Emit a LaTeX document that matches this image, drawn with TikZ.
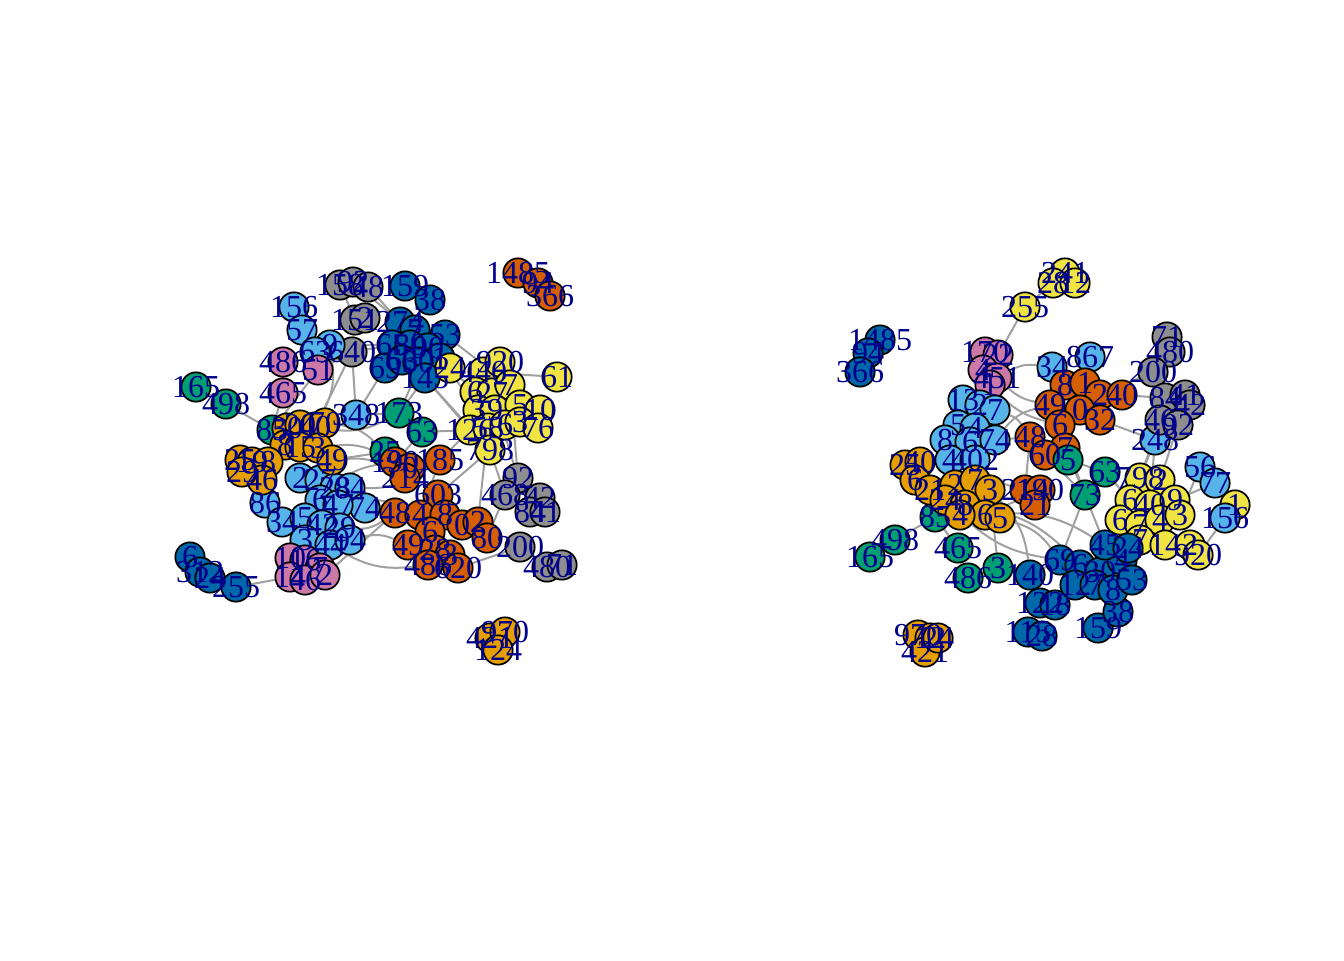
\documentclass[tikz,border=0pt]{standalone}
\usepackage{fontspec}
\setmainfont{Liberation Serif}
\usepackage{xcolor}
\usepackage{tikz}
\usetikzlibrary{positioning}

\definecolor{cOrange}{HTML}{E69F00}
\definecolor{cSky}{HTML}{56B4E9}
\definecolor{cGreen}{HTML}{009E73}
\definecolor{cYellow}{HTML}{F0E442}
\definecolor{cBlue}{HTML}{0068A8}
\definecolor{cVerm}{HTML}{D55E00}
\definecolor{cPink}{HTML}{CC79A7}
\definecolor{cGray}{HTML}{8E8E8E}
\definecolor{labNavy}{HTML}{00008B}
\definecolor{edgeGray}{HTML}{A0A0A0}

\pgfdeclarelayer{bg}
\pgfsetlayers{bg,main}

\tikzset{
    vtx/.style={circle, draw=black, line width=1.3pt, minimum size=22pt, inner sep=0pt},
    lbl/.style={text=labNavy, font=\fontsize{24}{24}\selectfont, inner sep=0pt},
    lnk/.style={draw=edgeGray, line width=1.5pt}
}

% left layout
\def\vertsA{a1/340/285/cGray/158, a2/353/282/cGray/92, a3/368/287/cGray/48,
    a4/355/320/cGray/151, a5/365/318/cGray/2, a6/352/352/cGray/640,
    a7/405/286/cBlue/159, a8/430/300/cBlue/38, a9/400/322/cBlue/274,
    a10/415/330/cBlue/7, a11/445/335/cBlue/53, a12/392/345/cBlue/65,
    a13/410/345/cBlue/80, a14/428/348/cBlue/90, a15/440/358/cBlue/1,
    a16/385/368/cBlue/69, a17/402/360/cBlue/66, a18/418/362/cBlue/30,
    a19/425/378/cBlue/145, a20/190/557/cBlue/6, a21/200/572/cBlue/312,
    a22/210/578/cBlue/24, a23/236/587/cBlue/255,
    a24/294/307/cSky/156, a25/302/330/cSky/57, a26/330/345/cSky/9,
    a27/315/352/cSky/63, a28/356/415/cSky/348, a29/300/478/cSky/2,
    a30/320/480/cSky/27, a31/335/488/cSky/28, a32/350/488/cSky/84,
    a33/265/503/cSky/86, a34/365/508/cSky/74, a35/320/500/cSky/6,
    a36/338/505/cSky/47, a37/282/522/cSky/34, a38/305/518/cSky/5,
    a39/322/525/cSky/42, a40/340/528/cSky/29, a41/305/540/cSky/3,
    a42/330/545/cSky/44, a43/350/540/cSky/94,
    a44/283/362/cPink/486, a45/318/370/cPink/51, a46/283/393/cPink/465,
    a47/290/558/cPink/10, a48/305/560/cPink/16, a49/320/568/cPink/7,
    a50/290/577/cPink/14, a51/305/580/cPink/46, a52/325/575/cPink/2,
    a53/196/387/cGreen/165, a54/226/404/cGreen/498, a55/272/430/cGreen/85,
    a56/399/413/cGreen/173, a57/422/432/cGreen/63, a58/385/452/cGreen/25,
    a59/287/428/cOrange/30, a60/300/425/cOrange/20, a61/315/427/cOrange/40,
    a62/325/423/cOrange/70, a63/285/445/cOrange/8, a64/300/447/cOrange/15,
    a65/318/448/cOrange/3, a66/332/460/cOrange/49, a67/240/460/cOrange/25,
    a68/252/462/cOrange/19, a69/268/462/cOrange/8, a70/262/480/cOrange/46,
    a71/242/472/cOrange/29, a72/490/638/cOrange/421, a73/505/632/cOrange/970,
    a74/498/650/cOrange/124,
    a75/450/368/cYellow/24, a76/483/372/cYellow/440, a77/500/362/cYellow/920,
    a78/557/377/cYellow/61, a79/475/392/cYellow/6, a80/492/393/cYellow/27,
    a81/510/385/cYellow/7, a82/478/410/cYellow/3, a83/495/410/cYellow/9,
    a84/520/405/cYellow/5, a85/540/410/cYellow/10, a86/470/430/cYellow/126,
    a87/488/428/cYellow/58, a88/505/425/cYellow/6, a89/520/422/cYellow/3,
    a90/538/428/cYellow/76, a91/490/450/cYellow/798,
    a92/518/273/cVerm/1485, a93/538/283/cVerm/94, a94/550/296/cVerm/366,
    a95/395/462/cVerm/190, a96/410/468/cVerm/0, a97/405/478/cVerm/214,
    a98/440/460/cVerm/185, a99/395/513/cVerm/48, a100/438/495/cVerm/603,
    a101/420/515/cVerm/4, a102/445/515/cVerm/8, a103/462/525/cVerm/0,
    a104/430/532/cVerm/6, a105/478/522/cVerm/2, a106/487/538/cVerm/80,
    a107/408/545/cVerm/49, a108/435/550/cVerm/28, a109/450/555/cVerm/3,
    a110/428/565/cVerm/486, a111/458/568/cVerm/620,
    a112/518/478/cGray/92, a113/505/495/cGray/468, a114/540/498/cGray/42,
    a115/530/512/cGray/84, a116/545/512/cGray/41, a117/520/547/cGray/200,
    a118/547/567/cGray/480, a119/562/565/cGray/71}

% right layout
\def\vertsB{b1/1065/273/cYellow/241, b2/1053/283/cYellow/28, b3/1075/283/cYellow/12,
    b4/1025/307/cYellow/255, b5/1140/478/cYellow/798, b6/1160/480/cYellow/2,
    b7/1130/500/cYellow/6, b8/1150/505/cYellow/40, b9/1175/500/cYellow/9,
    b10/1120/520/cYellow/6, b11/1140/525/cYellow/7, b12/1160/520/cYellow/4,
    b13/1180/515/cYellow/3, b14/1140/540/cYellow/7, b15/1165/545/cYellow/14,
    b16/1190/545/cYellow/2, b17/1198/555/cYellow/920, b18/1235/505/cYellow/1,
    b19/880/340/cBlue/1485, b20/868/353/cBlue/94, b21/860/372/cBlue/366,
    b22/1030/575/cBlue/140, b23/1040/603/cBlue/122, b24/1055/605/cBlue/18,
    b25/1028/632/cBlue/115, b26/1042/636/cBlue/28, b27/1098/628/cBlue/159,
    b28/1118/612/cBlue/38, b29/1060/560/cBlue/69, b30/1080/565/cBlue/6,
    b31/1100/572/cBlue/30, b32/1122/560/cBlue/4, b33/1105/545/cBlue/45,
    b34/1128/548/cBlue/24, b35/1075/585/cBlue/12, b36/1095/585/cBlue/7,
    b37/1113/590/cBlue/8, b38/1132/580/cBlue/53,
    b39/985/352/cPink/170, b40/998/355/cPink/22, b41/983/370/cPink/4,
    b42/997/378/cPink/451, b43/990/385/cPink/1,
    b44/1052/367/cSky/34, b45/1090/357/cSky/867, b46/1155/440/cSky/248,
    b47/1200/467/cSky/56, b48/1215/483/cSky/77, b49/1225/518/cSky/156,
    b50/963/400/cSky/13, b51/980/405/cSky/2, b52/995/410/cSky/7,
    b53/958/425/cSky/5, b54/975/428/cSky/4, b55/945/440/cSky/8,
    b56/970/442/cSky/6, b57/995/440/cSky/74, b58/950/460/cSky/4,
    b59/975/460/cSky/402,
    b60/1065/385/cVerm/8, b61/1085/383/cVerm/1, b62/1100/395/cVerm/2,
    b63/1122/395/cVerm/40, b64/1050/405/cVerm/49, b65/1080/410/cVerm/0,
    b66/1100/420/cVerm/32, b67/1060/425/cVerm/6, b68/1030/437/cVerm/48,
    b69/1065/448/cVerm/7, b70/1045/455/cVerm/60, b71/1025/490/cVerm/214,
    b72/1040/490/cVerm/190, b73/1035/505/cVerm/21,
    b74/1167/337/cGray/71, b75/1170/352/cGray/480, b76/1153/372/cGray/200,
    b77/1165/398/cGray/84, b78/1185/395/cGray/41, b79/1190/405/cGray/42,
    b80/1160/420/cGray/46, b81/1178/425/cGray/92,
    b82/1105/472/cGreen/63, b83/1085/495/cGreen/73, b84/935/517/cGreen/85,
    b85/895/540/cGreen/498, b86/870/557/cGreen/165, b87/958/548/cGreen/465,
    b88/968/578/cGreen/486, b89/998/568/cGreen/3, b90/1068/460/cGreen/5,
    b91/905/465/cOrange/25, b92/920/462/cOrange/40, b93/915/480/cOrange/6,
    b94/930/490/cOrange/21, b95/955/485/cOrange/2, b96/975/480/cOrange/7,
    b97/990/490/cOrange/3, b98/945/500/cOrange/24, b99/965/505/cOrange/8,
    b100/985/515/cOrange/6, b101/1000/518/cOrange/5, b102/960/515/cOrange/4,
    b103/918/635/cOrange/970, b104/930/638/cOrange/12, b105/925/652/cOrange/421,
    b106/938/638/cOrange/24}

\begin{document}
\begin{tikzpicture}[x=0.75pt, y=-0.75pt]
    \useasboundingbox (0,0) rectangle (1344,960);

    % vertices
    \foreach \n/\x/\y/\c/\t in \vertsA
        \node[vtx, fill=\c] (\n) at (\x,\y) {};
    \foreach \n/\x/\y/\c/\t in \vertsB
        \node[vtx, fill=\c] (\n) at (\x,\y) {};

    % labels on top
    \foreach \n/\x/\y/\c/\t in \vertsA
        \node[lbl] at (\n) {\t};
    \foreach \n/\x/\y/\c/\t in \vertsB
        \node[lbl] at (\n) {\t};

    % edges
    \begin{pgfonlayer}{bg}
        \foreach \u/\v in {a53/a54, a54/a55, a46/a55, a44/a46, a52/a99,
            a21/a23, a23/a50, a16/a28, a19/a56, a12/a6, a6/a45, a1/a4,
            a4/a6, a2/a9, a3/a9, a86/a57, a57/a95, a80/a112, a106/a113,
            a111/a117, a117/a118, a118/a119, a92/a93, a93/a94, a76/a78,
            a75/a79, a91/a113, a98/a101, a19/a86, a56/a57, a28/a56,
            a11/a81, a15/a82, a112/a114, a12/a26, a6/a28, a112/a81,
            a66/a58, a19/a91, a14/a56, a86/a98, a91/a100, a87/a105,
            a45/a55, a6/a61, a20/a22}
            \draw[lnk] (\u) -- (\v);
        \foreach \u/\v in {a34/a99, a43/a107, a35/a95, a62/a58, a36/a101,
            a65/a95, a26/a61, a66/a97}
            \draw[lnk] (\u) to[bend left=18] (\v);
        \foreach \u/\v in {a40/a99, a32/a98, a61/a56, a42/a110}
            \draw[lnk] (\u) to[bend right=18] (\v);

        \foreach \u/\v in {b4/b2, b2/b1, b1/b3, b4/b40, b19/b20, b20/b21,
            b43/b50, b57/b68, b46/b5, b80/b5, b77/b63, b84/b85, b85/b86,
            b87/b84, b88/b89, b89/b22, b100/b72, b71/b68, b83/b33,
            b83/b29, b82/b7, b47/b13, b49/b17, b28/b27, b25/b23,
            b103/b105, b76/b62, b81/b6, b69/b83, b90/b82, b87/b88,
            b46/b66, b22/b29, b48/b9, b45/b61, b89/b97, b70/b83,
            b67/b83, b46/b8}
            \draw[lnk] (\u) -- (\v);
        \foreach \u/\v in {b42/b44, b44/b60, b101/b29, b57/b64,
            b97/b22, b52/b68, b99/b30, b100/b33}
            \draw[lnk] (\u) to[bend left=18] (\v);
        \foreach \u/\v in {b42/b64, b102/b29, b59/b71, b43/b67}
            \draw[lnk] (\u) to[bend right=15] (\v);
    \end{pgfonlayer}
\end{tikzpicture}
\end{document}
